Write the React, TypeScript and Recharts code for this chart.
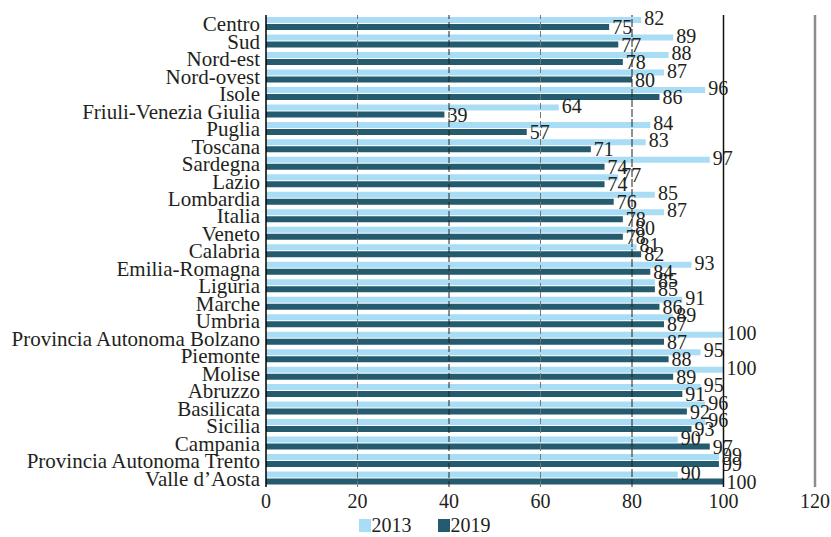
import React from 'react';
import { BarChart, Bar, XAxis, YAxis, Legend, ReferenceLine, LabelList } from 'recharts';

const regions = [
    'Centro', 'Sud', 'Nord-est', 'Nord-ovest', 'Isole', 'Friuli-Venezia Giulia', 'Puglia', 'Toscana',
    'Sardegna', 'Lazio', 'Lombardia', 'Italia', 'Veneto', 'Calabria', 'Emilia-Romagna', 'Liguria',
    'Marche', 'Umbria', 'Provincia Autonoma Bolzano', 'Piemonte', 'Molise', 'Abruzzo', 'Basilicata',
    'Sicilia', 'Campania', 'Provincia Autonoma Trento', 'Valle d’Aosta',
];
const values2013 = [82, 89, 88, 87, 96, 64, 84, 83, 97, 77, 85, 87, 80, 81, 93, 85, 91, 89, 100, 95, 100, 95, 96, 96, 90, 99, 90];
const values2019 = [75, 77, 78, 80, 86, 39, 57, 71, 74, 74, 76, 78, 78, 82, 84, 85, 86, 87, 87, 88, 89, 91, 92, 93, 97, 99, 100];
const xTicks = [0, 20, 40, 60, 80, 100, 120];

const FONT = 'Liberation Serif';
const TEXT = '#231f20';
const LIGHT = '#a9ddf6';
const DARK = '#255b6e';

const data = regions.map((name, i) => ({ name, y2013: values2013[i], y2019: values2019[i] }));

// legend drawn by hand so the text stays dark
const renderLegend = () => (
    <div style={{ display: 'flex', justifyContent: 'center', alignItems: 'center', fontFamily: FONT, fontSize: 20, color: TEXT, paddingLeft: 34 }}>
        <span style={{ display: 'inline-block', width: 12, height: 13, background: LIGHT, marginRight: 1 }} />
        <span style={{ marginRight: 26, fontFamily: FONT }}>2013</span>
        <span style={{ display: 'inline-block', width: 12, height: 13, background: DARK, marginRight: 1 }} />
        <span style={{ fontFamily: FONT }}>2019</span>
    </div>
);

export default function App() {
    return (
        <div style={{ width: 831, height: 537, fontFamily: FONT }}>
            <style>{`body { margin: 0; }`}</style>
            <BarChart
                width={831}
                height={537}
                data={data}
                layout="vertical"
                margin={{ top: 15, right: 16, bottom: 0, left: 0 }}
                barSize={6}
                barGap={1}
            >
                <XAxis
                    type="number"
                    domain={[0, 120]}
                    ticks={xTicks}
                    axisLine={false}
                    tickLine={false}
                    height={27}
                    tick={{ fontSize: 20, fill: TEXT, fontFamily: FONT }}
                    tickSize={5}
                    tickMargin={2}
                />
                <YAxis
                    type="category"
                    dataKey="name"
                    width={266}
                    interval={0}
                    axisLine={{ stroke: '#000', strokeWidth: 1.5 }}
                    tickLine={false}
                    tickSize={4}
                    tickMargin={2}
                    tick={{ fontSize: 21, fill: TEXT, fontFamily: FONT }}
                />
                <Legend verticalAlign="bottom" height={23} content={renderLegend} />
                <Bar dataKey="y2013" name="2013" fill={LIGHT} isAnimationActive={false}>
                    <LabelList dataKey="y2013" position="right" offset={3} dy={-2} fontSize={20} fontFamily={FONT} fill={TEXT} />
                </Bar>
                <Bar dataKey="y2019" name="2019" fill={DARK} isAnimationActive={false}>
                    <LabelList dataKey="y2019" position="right" offset={3} fontSize={20} fontFamily={FONT} fill={TEXT} />
                </Bar>
                <ReferenceLine x={20} stroke="#777" strokeDasharray="6 3" />
                <ReferenceLine x={40} stroke="#222" strokeDasharray="6 3" />
                <ReferenceLine x={60} stroke="#777" strokeDasharray="6 3" />
                <ReferenceLine x={80} stroke="#222" strokeDasharray="8 2" />
                <ReferenceLine x={100} stroke="#111" strokeWidth={1.5} />
                <ReferenceLine x={120} stroke="#8c8c8c" strokeWidth={2.5} />
            </BarChart>
        </div>
    );
}
